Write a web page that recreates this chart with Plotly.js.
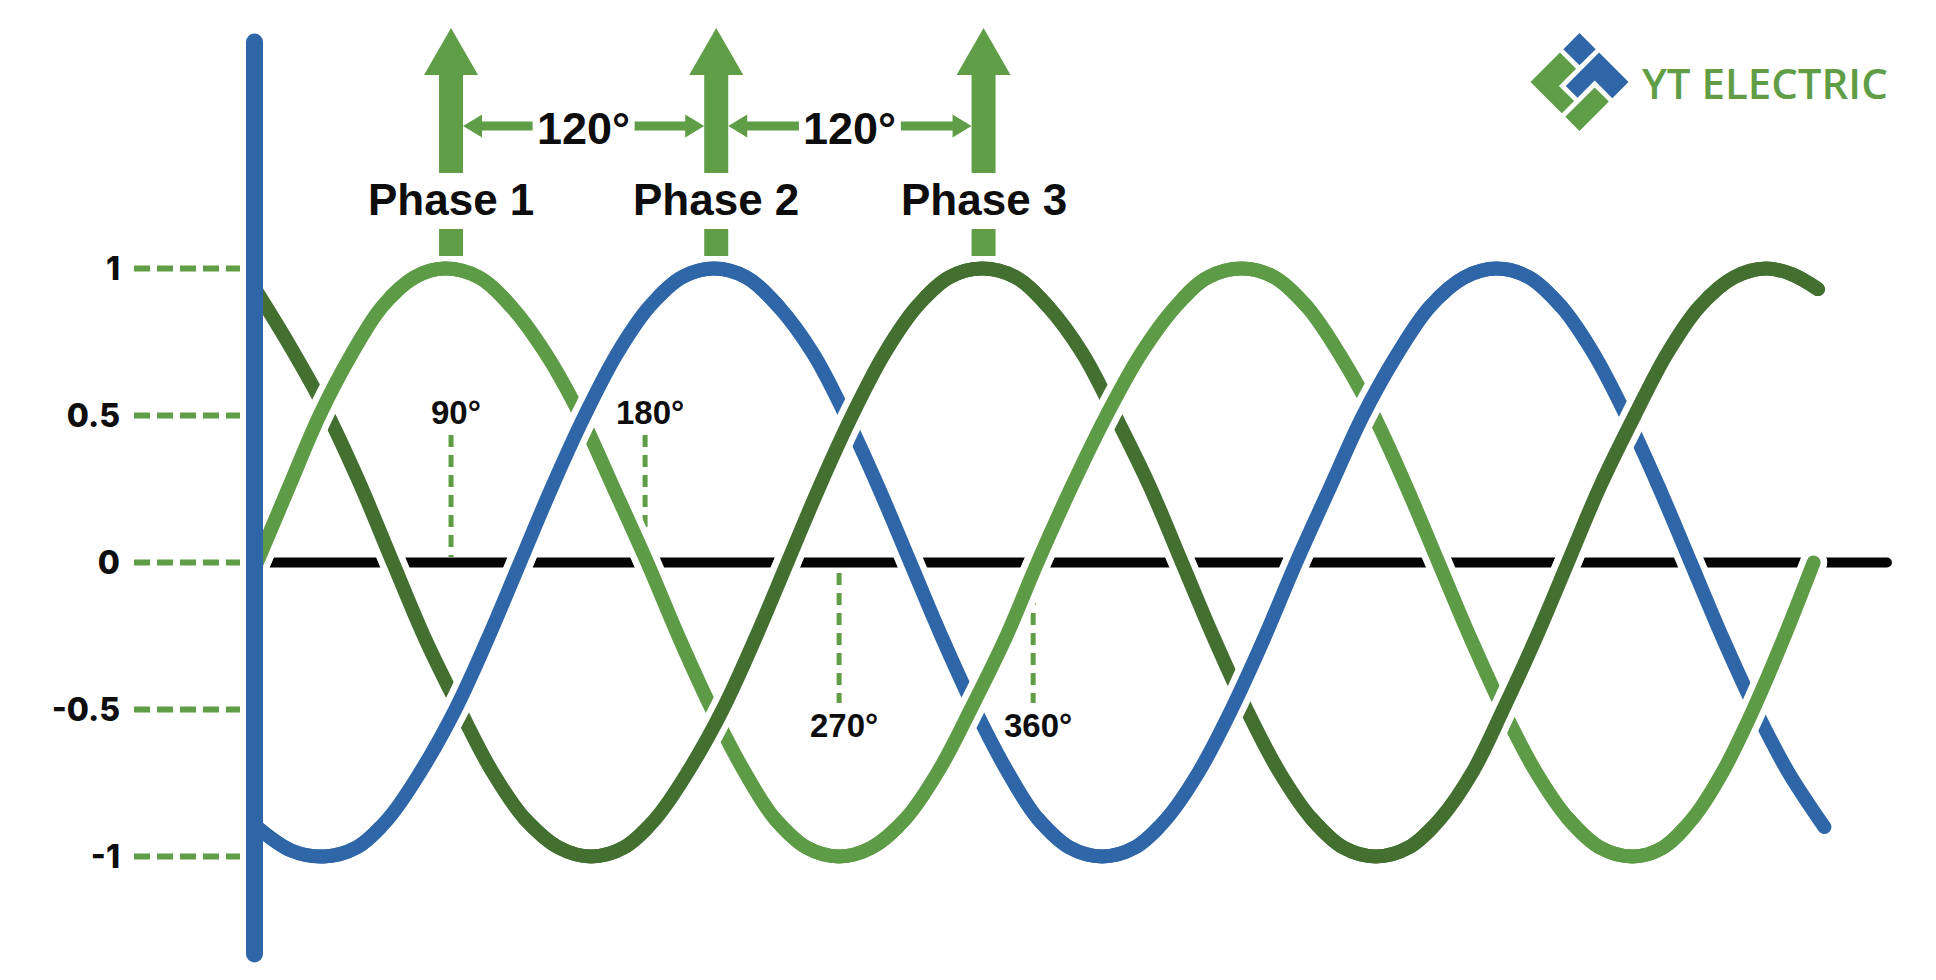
<!DOCTYPE html>
<html>
<head>
<meta charset="utf-8">
<script src="https://cdn.plot.ly/plotly-3.0.1.min.js"></script>
<style>
html,body{margin:0;padding:0;background:#ffffff;}
#chart{width:1936px;height:980px;}
</style>
</head>
<body>
<div id="chart"></div>
<script>
// ================= DATA =================
const phaseNames = ['Phase 1', 'Phase 2', 'Phase 3'];

// Phase 1 (light green) : angle in degrees, normalised value
const phase1Deg = [0, 15, 29, 44, 58, 73, 87, 103, 118, 134, 150, 165, 181, 196, 211, 226, 240, 255, 270,
                   285, 301, 316, 331, 347, 362, 378, 394, 410, 426, 441, 457, 472, 487, 502, 518, 533, 548,
                   563, 578, 593, 608, 623, 638, 652, 666, 680, 694, 708, 722];
const phase1Val = [0, 0.26, 0.5, 0.71, 0.87, 0.97, 1, 0.97, 0.87, 0.71, 0.5, 0.26, 0, -0.26, -0.5, -0.71, -0.87, -0.97, -1,
                   -0.97, -0.87, -0.71, -0.5, -0.26, 0, 0.26, 0.5, 0.71, 0.87, 0.97, 1, 0.97, 0.87, 0.71, 0.5, 0.26, 0,
                   -0.26, -0.5, -0.71, -0.87, -0.97, -1, -0.97, -0.87, -0.71, -0.5, -0.26, 0];

// Phase 2 (blue)
const phase2Deg = [0, 16, 31, 46, 61, 76, 92, 107, 122, 137, 152, 167, 182, 197, 212, 227, 242, 258, 273, 288, 303,
                   318, 333, 348, 362, 377, 392, 407, 422, 437, 452, 467, 482, 498, 513, 529, 544, 560, 575,
                   590, 605, 620, 635, 650, 665, 680, 695, 710, 727];
const phase2Val = [-0.9, -0.98, -1, -0.97, -0.87, -0.71, -0.5, -0.26, 0, 0.26, 0.5, 0.71, 0.87, 0.97, 1, 0.97, 0.87, 0.71, 0.5, 0.26, 0,
                   -0.26, -0.5, -0.71, -0.87, -0.97, -1, -0.97, -0.87, -0.71, -0.5, -0.26, 0, 0.26, 0.5, 0.71, 0.87, 0.97, 1,
                   0.97, 0.87, 0.71, 0.5, 0.26, 0, -0.26, -0.5, -0.71, -0.9];

// Phase 3 (dark green)
const phase3Deg = [0, 15, 31, 47, 63, 78, 94, 109, 124, 140, 155, 170, 185, 200, 216, 231, 246, 261, 276, 291, 306, 321, 336,
                   352, 367, 383, 398, 414, 429, 444, 459, 474, 489, 504, 519, 534, 549, 564, 578, 593, 608,
                   623, 639, 654, 669, 685, 700, 712, 724];
const phase3Val = [0.92, 0.74, 0.53, 0.28, 0, -0.26, -0.5, -0.71, -0.87, -0.97, -1, -0.97, -0.87, -0.71, -0.5, -0.26, 0, 0.26, 0.5, 0.71, 0.87, 0.97, 1,
                   0.97, 0.87, 0.71, 0.5, 0.26, 0, -0.26, -0.5, -0.71, -0.87, -0.97, -1, -0.97, -0.87, -0.71, -0.5, -0.26, 0,
                   0.26, 0.5, 0.71, 0.87, 0.97, 1, 0.98, 0.93];

// peaks marked by the vertical arrows, and the shift label between them
const phasePeakDeg = [90, 213, 337];
const phaseShiftLabel = '120°';

// angle markers on the zero line
const markerDeg = [90, 180, 270, 360];
const markerLabels = ['90°', '180°', '270°', '360°'];

// zero line extent (degrees)
const baselineDeg = [4.6, 756];

// y ticks
const yTickVals = [1, 0.5, 0, -0.5, -1];
const yTickText = ['1', '0.5', '0', '-0.5', '-1'];

const brandName = 'YT ELECTRIC';

// ================= STYLE / GEOMETRY =================
const C_LIGHT = '#5e9b46';
const C_BLUE = '#2e66a8';
const C_DARK = '#436f31';
const C_ARROW = '#5f9e46';
const C_TEXT = '#0d0d0d';

const W = 1936, H = 980, ML = 200;
const PX0 = 257, PXD = 2.156;   // pixel of 0 deg, pixels per degree
const Y0 = 562.5, PYU = 294;    // pixel of value 0, pixels per unit
const degAt = px => (px - PX0) / PXD;
const valAt = py => (Y0 - py) / PYU;
const paperX = px => (px - ML) / (W - ML);
const paperY = py => 1 - py / H;

const LINE_W = 14, HALO_W = 27;

const curves = [
  {x: phase1Deg, y: phase1Val, color: C_LIGHT},
  {x: phase2Deg, y: phase2Val, color: C_BLUE},
  {x: phase3Deg, y: phase3Val, color: C_DARK}
];

function segments(ys) {
  const segs = []; let start = 0;
  for (let i = 1; i < ys.length - 1; i++) {
    if ((ys[i] - ys[i - 1]) * (ys[i + 1] - ys[i]) < 0) {
      segs.push({i0: start, i1: i, rising: ys[i] > ys[start]});
      start = i;
    }
  }
  segs.push({i0: start, i1: ys.length - 1, rising: ys[ys.length - 1] > ys[start]});
  return segs;
}

function lineTrace(x, y, color, width) {
  return {x: x, y: y, type: 'scatter', mode: 'lines', hoverinfo: 'skip', showlegend: false,
          line: {color: color, width: width, shape: 'spline', smoothing: 1}};
}

const traces = [];
// 1. zero line
traces.push({x: baselineDeg, y: [0, 0], type: 'scatter', mode: 'lines', hoverinfo: 'skip', showlegend: false,
             line: {color: '#050505', width: 10}});
// 2. halos of all segments (cut the zero line)
const risingParts = [];
curves.forEach(c => {
  segments(c.y).forEach(s => {
    const hx = [], hy = [];
    for (let i = s.i0; i <= s.i1; i++) { if (Math.abs(c.y[i]) < 0.95) { hx.push(c.x[i]); hy.push(c.y[i]); } }
    if (hx.length > 1) traces.push(lineTrace(hx, hy, '#ffffff', HALO_W));
    if (s.rising) risingParts.push({c: c, s: s, hx: hx, hy: hy});
  });
});
// 3. full curves
curves.forEach(c => traces.push(lineTrace(c.x, c.y, c.color, LINE_W)));
// 4. halos of rising parts (rising strand passes over)
risingParts.forEach(r => { if (r.hx.length > 1) traces.push(lineTrace(r.hx, r.hy, '#ffffff', HALO_W)); });
// 5. rising parts redrawn on top
risingParts.forEach(r => {
  const a = Math.max(0, r.s.i0 - 2), b = Math.min(r.c.x.length - 1, r.s.i1 + 2);
  traces.push(lineTrace(r.c.x.slice(a, b + 1), r.c.y.slice(a, b + 1), r.c.color, LINE_W));
});
// 6. vertical blue axis bar
traces.push({x: [degAt(254.5), degAt(254.5)], y: [valAt(42), valAt(954)], type: 'scatter', mode: 'lines',
             hoverinfo: 'skip', showlegend: false, line: {color: C_BLUE, width: 17}});

// ================= SHAPES =================
const shapes = [];
// dashed leaders from tick labels to the axis
yTickVals.forEach(v => {
  shapes.push({type: 'line', layer: 'below', xref: 'paper', yref: 'y',
    x0: paperX(134), x1: paperX(240), y0: v, y1: v,
    line: {color: C_ARROW, width: 6, dash: '16px,7px'}});
});
// dashed angle markers
markerDeg.forEach((d, i) => {
  const up = i < 2;
  shapes.push({type: 'line', layer: 'below', xref: 'x', yref: 'y',
    x0: d, x1: d, y0: up ? valAt(435) : valAt(573), y1: up ? valAt(557) : valAt(703),
    line: {color: C_ARROW, width: 5, dash: '12px,8px'}});
});
// phase arrows (pixel-sized, anchored at top of page)
function pth(pts) { return 'M' + pts.map(p => p[0].toFixed(2) + ',' + p[1].toFixed(2)).join('L') + 'Z'; }
phasePeakDeg.forEach(d => {
  shapes.push({type: 'path', layer: 'above', xref: 'x', yref: 'paper', xsizemode: 'pixel', ysizemode: 'pixel',
    xanchor: d, yanchor: 1, fillcolor: C_ARROW, line: {width: 0},
    path: pth([[0, -28], [27, -75], [12, -75], [12, -173], [-12, -173], [-12, -75], [-27, -75]])});
  shapes.push({type: 'path', layer: 'above', xref: 'x', yref: 'paper', xsizemode: 'pixel', ysizemode: 'pixel',
    xanchor: d, yanchor: 1, fillcolor: C_ARROW, line: {width: 0},
    path: pth([[-12, -229], [12, -229], [12, -256], [-12, -256]])});
});
// horizontal 120° arrows
function hArrow(anchorDeg, dir, len) {
  const yc = -126;
  return {type: 'path', layer: 'above', xref: 'x', yref: 'paper', xsizemode: 'pixel', ysizemode: 'pixel',
    xanchor: anchorDeg, yanchor: 1, fillcolor: C_ARROW, line: {width: 0},
    path: pth([[dir * 12, yc], [dir * 31, yc + 11.5], [dir * 31, yc + 4.5], [dir * len, yc + 4.5],
               [dir * len, yc - 4.5], [dir * 31, yc - 4.5], [dir * 31, yc - 11.5]])};
}
for (let i = 0; i < phasePeakDeg.length - 1; i++) {
  const half = (phasePeakDeg[i + 1] - phasePeakDeg[i]) * PXD / 2;
  shapes.push(hArrow(phasePeakDeg[i], 1, half - 51));
  shapes.push(hArrow(phasePeakDeg[i + 1], -1, half - 51));
}
// logo mark (rotated-square pieces)
function logoPiece(ab, color) {
  const pts = ab.map(([a, b]) => [paperX(1579.5 + 49 * (a - b)), paperY(33 + 49 * (a + b))]);
  return {type: 'path', layer: 'above', xref: 'paper', yref: 'paper', fillcolor: color, line: {width: 0},
    path: 'M' + pts.map(p => p[0].toFixed(5) + ',' + p[1].toFixed(5)).join('L') + 'Z'};
}
shapes.push(logoPiece([[0, 0], [0.33, 0], [0.33, 0.33], [0, 0.33]], C_BLUE));
shapes.push(logoPiece([[0.4, 0], [1, 0], [1, 0.33], [0.64, 0.33], [0.64, 0.68], [0.4, 0.68]], C_BLUE));
shapes.push(logoPiece([[0, 0.4], [0.33, 0.4], [0.33, 0.75], [0.64, 0.75], [0.64, 1], [0, 1]], C_ARROW));
shapes.push(logoPiece([[0.71, 0.4], [1, 0.4], [1, 1], [0.71, 1]], C_ARROW));

// ================= ANNOTATIONS =================
const boldFont = (size) => ({family: 'Liberation Sans, Arial, sans-serif', size: size, color: C_TEXT, weight: 700});
const annotations = [];
phaseNames.forEach((n, i) => {
  annotations.push({text: '<b>' + n + '</b>', x: phasePeakDeg[i], xref: 'x', y: paperY(199), yref: 'paper',
    showarrow: false, xanchor: 'center', yanchor: 'middle', font: boldFont(44)});
});
for (let i = 0; i < phasePeakDeg.length - 1; i++) {
  annotations.push({text: '<b>' + phaseShiftLabel + '</b>', x: (phasePeakDeg[i] + phasePeakDeg[i + 1]) / 2, xref: 'x',
    y: paperY(128), yref: 'paper', showarrow: false, xanchor: 'center', yanchor: 'middle', font: boldFont(45)});
}
markerDeg.forEach((d, i) => {
  annotations.push({text: '<b>' + markerLabels[i] + '</b>', x: d, xref: 'x', xshift: 5,
    y: i < 2 ? valAt(412) : valAt(725), yref: 'y', showarrow: false, xanchor: 'center', yanchor: 'middle',
    font: boldFont(33)});
});
annotations.push({text: brandName, x: paperX(1765), xref: 'paper', y: paperY(82), yref: 'paper', showarrow: false,
  xanchor: 'center', yanchor: 'middle', font: {family: 'Open Sans, sans-serif', size: 42, color: C_ARROW, weight: 600}});

// ================= LAYOUT =================
const layout = {
  width: W, height: H,
  margin: {l: ML, r: 0, t: 0, b: 0, pad: 0},
  paper_bgcolor: '#ffffff', plot_bgcolor: '#ffffff',
  showlegend: false,
  xaxis: {range: [degAt(ML), degAt(W)], visible: false, fixedrange: true},
  yaxis: {range: [valAt(H), valAt(0)], showgrid: false, zeroline: false, showline: false, ticks: '',
          tickmode: 'array', tickvals: yTickVals, ticktext: yTickText, ticklabelstandoff: 79,
          tickfont: {family: 'Inter, sans-serif', size: 32, color: C_TEXT, weight: 800}, fixedrange: true},
  shapes: shapes,
  annotations: annotations
};

Plotly.newPlot('chart', traces, layout, {displayModeBar: false, staticPlot: true}).then(() => {
  document.querySelectorAll('#chart .scatterlayer path.js-line').forEach(p => {
    p.style.strokeLinecap = 'round';
  });
});
</script>
</body>
</html>
